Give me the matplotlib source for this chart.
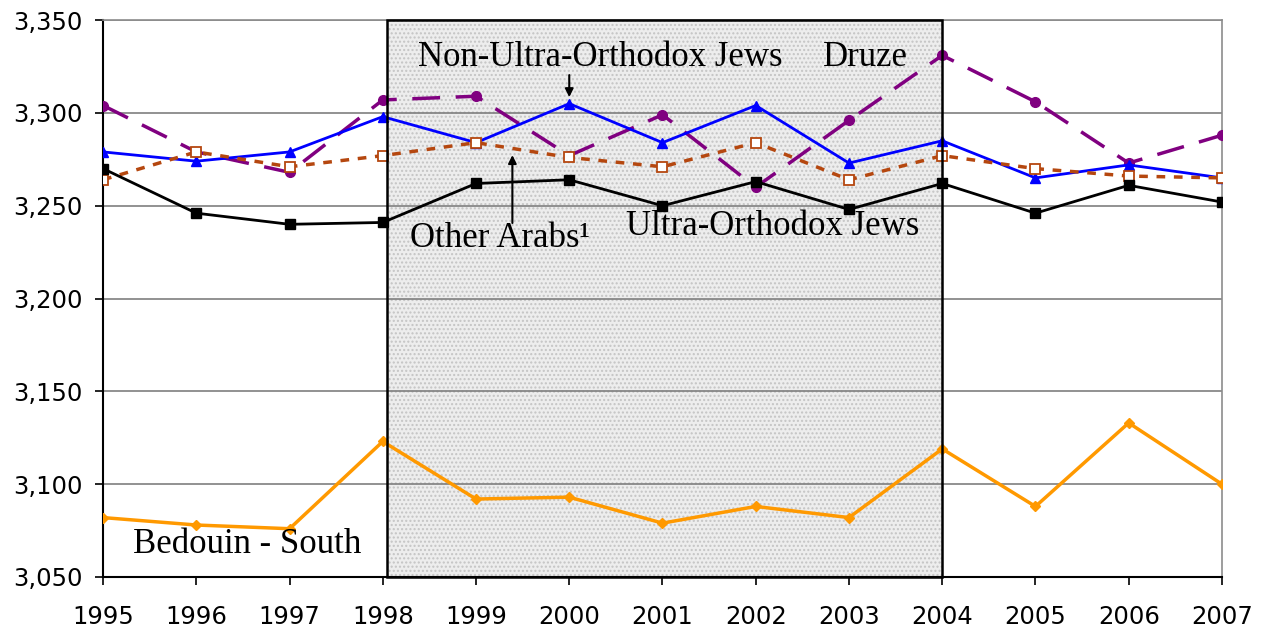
import matplotlib.pyplot as plt
from matplotlib.patches import Rectangle

# Data
years = [1995, 1996, 1997, 1998, 1999, 2000, 2001, 2002, 2003, 2004, 2005, 2006, 2007]
druze = [3304, 3279, 3268, 3307, 3309, 3277, 3299, 3260, 3296, 3331, 3306, 3273, 3288]
non_ultra_orthodox = [3279, 3274, 3279, 3298, 3284, 3305, 3284, 3304, 3273, 3285, 3265, 3272, 3265]
other_arabs = [3264, 3279, 3271, 3277, 3284, 3276, 3271, 3284, 3264, 3277, 3270, 3266, 3265]
ultra_orthodox = [3270, 3246, 3240, 3241, 3262, 3264, 3250, 3263, 3248, 3262, 3246, 3261, 3252]
bedouin_south = [3082, 3078, 3076, 3123, 3092, 3093, 3079, 3088, 3082, 3119, 3088, 3133, 3100]
shade_start, shade_end = 1998.05, 2004

fig = plt.figure(figsize=(12.66, 6.29), dpi=100)
ax = fig.add_axes([0.0814, 0.0827, 0.8838, 0.8853])

ymin, ymax = 3050, 3350
ax.set_xlim(years[0], years[-1])
ax.set_ylim(ymin, ymax)

# shaded period box
ax.add_patch(Rectangle((shade_start, ymin), shade_end - shade_start, ymax - ymin,
                       facecolor='#ededed', edgecolor='none', zorder=0.5))
ax.add_patch(Rectangle((shade_start, ymin), shade_end - shade_start, ymax - ymin,
                       facecolor='none', edgecolor='#c4c4c4', hatch='....', lw=0, zorder=0.6))

# grid
for v in range(3100, 3351, 50):
    ax.axhline(v, color='#7f7f7f', lw=1.2, zorder=1)

ax.plot(years, druze, color='#800080', lw=2.5, dashes=(8, 4.5), marker='o', ms=7, zorder=3)
ax.plot(years, non_ultra_orthodox, color='#0000ff', lw=2, marker='^', ms=7, zorder=3)
ax.plot(years, other_arabs, color='#b5470f', lw=2.5, dashes=(2.5, 2.5), marker='s', ms=7,
        markerfacecolor='white', markeredgecolor='#b5470f', markeredgewidth=1.3, zorder=3)
ax.plot(years, ultra_orthodox, color='black', lw=2, marker='s', ms=7, zorder=3)
ax.plot(years, bedouin_south, color='#ff9900', lw=2.5, marker='D', ms=5.5, zorder=3)

# box border on top
ax.add_patch(Rectangle((shade_start, ymin), shade_end - shade_start, ymax - ymin,
                       facecolor='none', edgecolor='black', lw=1.8, zorder=4, clip_on=False))

ax.set_xticks(years)
ax.set_xticklabels([str(y) for y in years])
ax.set_yticks(range(3050, 3351, 50))
ax.set_yticklabels([f'{v:,}' for v in range(3050, 3351, 50)])
ax.tick_params(axis='both', labelsize=17.5, length=6, width=1.2, direction='out')
ax.tick_params(axis='y', pad=9)
ax.tick_params(axis='x', pad=14)

for s in ['top', 'right']:
    ax.spines[s].set_color('#8c8c8c')
    ax.spines[s].set_linewidth(1.2)
for s in ['left', 'bottom']:
    ax.spines[s].set_color('black')
    ax.spines[s].set_linewidth(1.5)

serif = 'Liberation Serif'
fs = 25
ax.text(2000.33, 3325.2, 'Non-Ultra-Orthodox Jews', family=serif, fontsize=fs,
        ha='center', va='baseline', zorder=5)
ax.text(2003.18, 3325.2, 'Druze', family=serif, fontsize=fs, ha='center', va='baseline', zorder=5)
ax.text(1999.26, 3227.8, 'Other Arabs\u00b9', family=serif, fontsize=fs,
        ha='center', va='baseline', zorder=5)
ax.text(2002.18, 3234.2, 'Ultra-Orthodox Jews', family=serif, fontsize=fs,
        ha='center', va='baseline', zorder=5)
ax.text(1996.55, 3063, 'Bedouin - South', family=serif, fontsize=fs,
        ha='center', va='baseline', zorder=5)

ax.annotate('', xy=(2000.0, 3308.5), xytext=(2000.0, 3320.4),
            arrowprops=dict(arrowstyle='-|>', color='black', lw=1.5, mutation_scale=12,
                            shrinkA=0, shrinkB=0), zorder=5)
ax.annotate('', xy=(1999.39, 3277.3), xytext=(1999.39, 3240.7),
            arrowprops=dict(arrowstyle='-|>', color='black', lw=1.5, mutation_scale=12,
                            shrinkA=0, shrinkB=0), zorder=5)

fig.savefig('out.png', dpi=100)
